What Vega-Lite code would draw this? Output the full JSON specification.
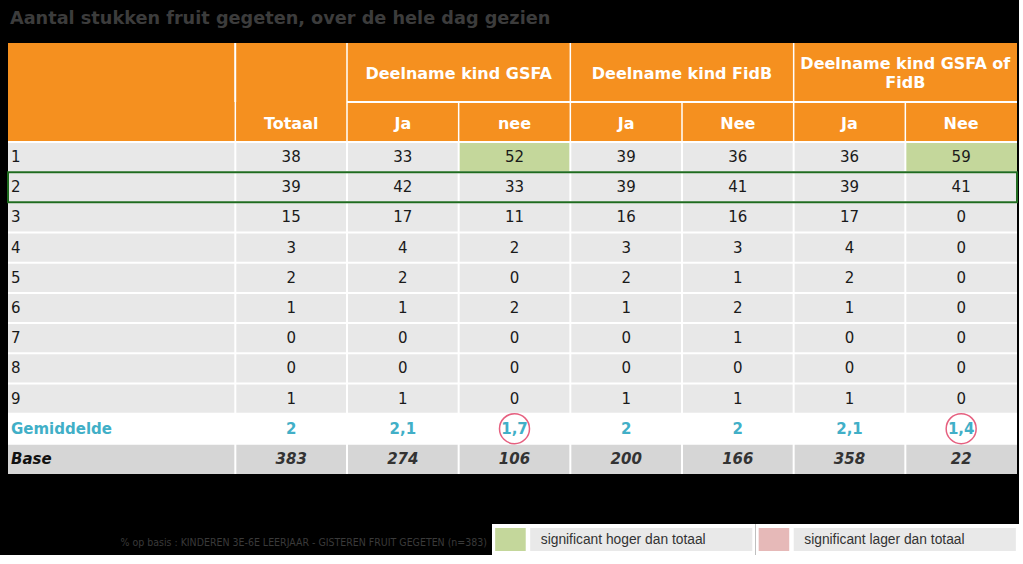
{
  "$schema": "https://vega.github.io/schema/vega-lite/v6.json",
  "background": "black",
  "padding": {"left": 7, "top": 9, "right": 0, "bottom": 0},
  "title": {"text": "Aantal stukken fruit gegeten, over de hele dag gezien", "anchor": "start", "font": "DejaVu Sans", "fontSize": 17.7, "fontWeight": "bold", "color": "#3c3c3c", "offset": 15, "dx": 3},
  "config": {"view": {"stroke": null}, "axis": {"disable": true}, "legend": {"disable": true}, "text": {"font": "DejaVu Sans"}},
  "datasets": {
    "groups": [
      {"group": "Deelname kind GSFA", "first": "GSFA Ja", "second": "GSFA nee"},
      {"group": "Deelname kind FidB", "first": "FidB Ja", "second": "FidB Nee"},
      {"group": "Deelname kind GSFA of\nFidB", "first": "Of Ja", "second": "Of Nee"}
    ],
    "subcols": [
      {"col": "Totaal", "label": "Totaal"},
      {"col": "GSFA Ja", "label": "Ja"},
      {"col": "GSFA nee", "label": "nee"},
      {"col": "FidB Ja", "label": "Ja"},
      {"col": "FidB Nee", "label": "Nee"},
      {"col": "Of Ja", "label": "Ja"},
      {"col": "Of Nee", "label": "Nee"}
    ],
    "legend": [
      {"item": "hoger", "label": "significant hoger dan totaal"},
      {"item": "lager", "label": "significant lager dan totaal"}
    ],
    "notes": [{"note": "% op basis : KINDEREN  3E-6E LEERJAAR - GISTEREN FRUIT GEGETEN (n=383)"}],
    "cells": [
      {"row": "1", "col": "Totaal", "value": "38"}, {"row": "1", "col": "GSFA Ja", "value": "33"}, {"row": "1", "col": "GSFA nee", "value": "52", "sig": "hoger"}, {"row": "1", "col": "FidB Ja", "value": "39"}, {"row": "1", "col": "FidB Nee", "value": "36"}, {"row": "1", "col": "Of Ja", "value": "36"}, {"row": "1", "col": "Of Nee", "value": "59", "sig": "hoger"},
      {"row": "2", "col": "Totaal", "value": "39"}, {"row": "2", "col": "GSFA Ja", "value": "42"}, {"row": "2", "col": "GSFA nee", "value": "33"}, {"row": "2", "col": "FidB Ja", "value": "39"}, {"row": "2", "col": "FidB Nee", "value": "41"}, {"row": "2", "col": "Of Ja", "value": "39"}, {"row": "2", "col": "Of Nee", "value": "41"},
      {"row": "3", "col": "Totaal", "value": "15"}, {"row": "3", "col": "GSFA Ja", "value": "17"}, {"row": "3", "col": "GSFA nee", "value": "11"}, {"row": "3", "col": "FidB Ja", "value": "16"}, {"row": "3", "col": "FidB Nee", "value": "16"}, {"row": "3", "col": "Of Ja", "value": "17"}, {"row": "3", "col": "Of Nee", "value": "0"},
      {"row": "4", "col": "Totaal", "value": "3"}, {"row": "4", "col": "GSFA Ja", "value": "4"}, {"row": "4", "col": "GSFA nee", "value": "2"}, {"row": "4", "col": "FidB Ja", "value": "3"}, {"row": "4", "col": "FidB Nee", "value": "3"}, {"row": "4", "col": "Of Ja", "value": "4"}, {"row": "4", "col": "Of Nee", "value": "0"},
      {"row": "5", "col": "Totaal", "value": "2"}, {"row": "5", "col": "GSFA Ja", "value": "2"}, {"row": "5", "col": "GSFA nee", "value": "0"}, {"row": "5", "col": "FidB Ja", "value": "2"}, {"row": "5", "col": "FidB Nee", "value": "1"}, {"row": "5", "col": "Of Ja", "value": "2"}, {"row": "5", "col": "Of Nee", "value": "0"},
      {"row": "6", "col": "Totaal", "value": "1"}, {"row": "6", "col": "GSFA Ja", "value": "1"}, {"row": "6", "col": "GSFA nee", "value": "2"}, {"row": "6", "col": "FidB Ja", "value": "1"}, {"row": "6", "col": "FidB Nee", "value": "2"}, {"row": "6", "col": "Of Ja", "value": "1"}, {"row": "6", "col": "Of Nee", "value": "0"},
      {"row": "7", "col": "Totaal", "value": "0"}, {"row": "7", "col": "GSFA Ja", "value": "0"}, {"row": "7", "col": "GSFA nee", "value": "0"}, {"row": "7", "col": "FidB Ja", "value": "0"}, {"row": "7", "col": "FidB Nee", "value": "1"}, {"row": "7", "col": "Of Ja", "value": "0"}, {"row": "7", "col": "Of Nee", "value": "0"},
      {"row": "8", "col": "Totaal", "value": "0"}, {"row": "8", "col": "GSFA Ja", "value": "0"}, {"row": "8", "col": "GSFA nee", "value": "0"}, {"row": "8", "col": "FidB Ja", "value": "0"}, {"row": "8", "col": "FidB Nee", "value": "0"}, {"row": "8", "col": "Of Ja", "value": "0"}, {"row": "8", "col": "Of Nee", "value": "0"},
      {"row": "9", "col": "Totaal", "value": "1"}, {"row": "9", "col": "GSFA Ja", "value": "1"}, {"row": "9", "col": "GSFA nee", "value": "0"}, {"row": "9", "col": "FidB Ja", "value": "1"}, {"row": "9", "col": "FidB Nee", "value": "1"}, {"row": "9", "col": "Of Ja", "value": "1"}, {"row": "9", "col": "Of Nee", "value": "0"},
      {"row": "Gemiddelde", "col": "Totaal", "value": "2"}, {"row": "Gemiddelde", "col": "GSFA Ja", "value": "2,1"}, {"row": "Gemiddelde", "col": "GSFA nee", "value": "1,7", "sig": "lager"}, {"row": "Gemiddelde", "col": "FidB Ja", "value": "2"}, {"row": "Gemiddelde", "col": "FidB Nee", "value": "2"}, {"row": "Gemiddelde", "col": "Of Ja", "value": "2,1"}, {"row": "Gemiddelde", "col": "Of Nee", "value": "1,4", "sig": "lager"},
      {"row": "Base", "col": "Totaal", "value": "383"}, {"row": "Base", "col": "GSFA Ja", "value": "274"}, {"row": "Base", "col": "GSFA nee", "value": "106"}, {"row": "Base", "col": "FidB Ja", "value": "200"}, {"row": "Base", "col": "FidB Nee", "value": "166"}, {"row": "Base", "col": "Of Ja", "value": "358"}, {"row": "Base", "col": "Of Nee", "value": "22"}
    ]
  },
  "spacing": 49,
  "vconcat": [
    {
      "bounds": "flush",
      "spacing": 0,
      "vconcat": [
        {
          "width": 1009, "height": 59,
          "data": {"name": "groups"},
          "layer": [
            {"mark": {"type": "rect", "color": "#F5901F"}, "encoding": {}},
            {"mark": {"type": "rule", "color": "white", "strokeWidth": 1.5},
             "encoding": {"x": {"field": "first", "type": "nominal", "bandPosition": 0, "scale": {"type": "band", "domain": ["lab1", "lab2", "Totaal", "GSFA Ja", "GSFA nee", "FidB Ja", "FidB Nee", "Of Ja", "Of Nee"], "paddingInner": 0, "paddingOuter": 0.0179, "align": 1}}}},
            {"mark": {"type": "rule", "color": "white", "strokeWidth": 1.5},
             "encoding": {"x": {"datum": "Totaal", "type": "nominal", "bandPosition": 0, "scale": {"type": "band", "domain": ["lab1", "lab2", "Totaal", "GSFA Ja", "GSFA nee", "FidB Ja", "FidB Nee", "Of Ja", "Of Nee"], "paddingInner": 0, "paddingOuter": 0.0179, "align": 1}}}},
            {"transform": [{"filter": "indexof(datum.group, '\\n') < 0"}],
             "mark": {"type": "text", "color": "white", "fontSize": 16, "fontWeight": "bold", "dy": 1},
             "encoding": {"x": {"field": "second", "type": "nominal", "bandPosition": 0, "scale": {"type": "band", "domain": ["lab1", "lab2", "Totaal", "GSFA Ja", "GSFA nee", "FidB Ja", "FidB Nee", "Of Ja", "Of Nee"], "paddingInner": 0, "paddingOuter": 0.0179, "align": 1}}, "text": {"field": "group"}}},
            {"transform": [{"filter": "indexof(datum.group, '\\n') >= 0"}],
             "mark": {"type": "text", "color": "white", "fontSize": 16, "fontWeight": "bold", "lineBreak": "\n", "lineHeight": 19, "dy": -8.5},
             "encoding": {"x": {"field": "second", "type": "nominal", "bandPosition": 0, "scale": {"type": "band", "domain": ["lab1", "lab2", "Totaal", "GSFA Ja", "GSFA nee", "FidB Ja", "FidB Nee", "Of Ja", "Of Nee"], "paddingInner": 0, "paddingOuter": 0.0179, "align": 1}}, "text": {"field": "group"}}}
          ]
        },
        {
          "width": 1009, "height": 40,
          "data": {"name": "subcols"},
          "layer": [
            {"mark": {"type": "rect", "color": "#F5901F"}, "encoding": {}},
            {"mark": {"type": "rule", "color": "white", "strokeWidth": 1.5},
             "encoding": {"x": {"field": "col", "type": "nominal", "bandPosition": 0, "scale": {"type": "band", "domain": ["lab1", "lab2", "Totaal", "GSFA Ja", "GSFA nee", "FidB Ja", "FidB Nee", "Of Ja", "Of Nee"], "paddingInner": 0, "paddingOuter": 0.0179, "align": 1}}}},
            {"mark": {"type": "rule", "color": "white", "strokeWidth": 1.5},
             "encoding": {
               "x": {"datum": "GSFA Ja", "type": "nominal", "bandPosition": 0, "scale": {"type": "band", "domain": ["lab1", "lab2", "Totaal", "GSFA Ja", "GSFA nee", "FidB Ja", "FidB Nee", "Of Ja", "Of Nee"], "paddingInner": 0, "paddingOuter": 0.0179, "align": 1}},
               "x2": {"datum": "Of Nee", "bandPosition": 1},
               "y": {"datum": "S", "type": "nominal", "bandPosition": 0, "scale": {"type": "band", "domain": ["S"], "paddingInner": 0, "paddingOuter": 0}}}},
            {"mark": {"type": "text", "color": "white", "fontSize": 16, "fontWeight": "bold", "dy": 2},
             "encoding": {"x": {"field": "col", "type": "nominal", "scale": {"type": "band", "domain": ["lab1", "lab2", "Totaal", "GSFA Ja", "GSFA nee", "FidB Ja", "FidB Nee", "Of Ja", "Of Nee"], "paddingInner": 0, "paddingOuter": 0.0179, "align": 1}},
               "y": {"datum": "S", "type": "nominal", "scale": {"type": "band", "domain": ["S"], "paddingInner": 0, "paddingOuter": 0}},
               "text": {"field": "label"}}}
          ]
        },
        {
          "width": 1009, "height": 332,
          "data": {"name": "cells"},
          "encoding": {
            "x": {"field": "col", "type": "nominal", "scale": {"type": "band", "domain": ["lab1", "lab2", "Totaal", "GSFA Ja", "GSFA nee", "FidB Ja", "FidB Nee", "Of Ja", "Of Nee"], "paddingInner": 0, "paddingOuter": 0.0179, "align": 1}},
            "y": {"field": "row", "type": "nominal", "scale": {"type": "band", "domain": ["1", "2", "3", "4", "5", "6", "7", "8", "9", "Gemiddelde", "Base"], "paddingInner": 0, "paddingOuter": 0}}
          },
          "layer": [
            {"transform": [{"filter": "datum.col === 'Totaal'"}],
             "mark": {"type": "rect"},
             "encoding": {"x": null,
               "fill": {"condition": [{"test": "datum.row === 'Gemiddelde'", "value": "#FFFFFF"}, {"test": "datum.row === 'Base'", "value": "#D6D6D6"}], "value": "#E8E8E8"}}},
            {"transform": [{"filter": "datum.sig && datum.row !== 'Gemiddelde'"}],
             "mark": {"type": "rect"},
             "encoding": {"color": {"field": "sig", "type": "nominal", "scale": {"domain": ["hoger", "lager"], "range": ["#C4D79B", "#E6B9B8"]}, "legend": null}}},
            {"transform": [{"filter": "datum.row === '1'"}],
             "mark": {"type": "rule", "color": "white", "strokeWidth": 2},
             "encoding": {"x": {"field": "col", "type": "nominal", "bandPosition": 0}, "y": null}},
            {"transform": [{"filter": "datum.col === 'Totaal'"}],
             "mark": {"type": "rule", "color": "white", "strokeWidth": 2},
             "encoding": {"y": {"field": "row", "type": "nominal", "bandPosition": 0}, "x": null}},
            {"transform": [{"filter": "datum.row === '2' && datum.col === 'Totaal'"}],
             "mark": {"type": "rect", "filled": false, "color": "#1F6B1F", "stroke": "#1F6B1F", "strokeWidth": 2},
             "encoding": {"x": null}},
            {"transform": [{"filter": "datum.row !== 'Gemiddelde' && datum.row !== 'Base'"}],
             "mark": {"type": "text", "fontSize": 15, "color": "#1a1a1a"},
             "encoding": {"text": {"field": "value"}}},
            {"transform": [{"filter": "datum.col === 'Totaal' && datum.row !== 'Gemiddelde' && datum.row !== 'Base'"}],
             "mark": {"type": "text", "fontSize": 15, "color": "#1a1a1a", "align": "left", "dx": -1},
             "encoding": {"x": {"datum": "lab1", "type": "nominal", "bandPosition": 0}, "text": {"field": "row"}}},
            {"transform": [{"filter": "datum.row === 'Gemiddelde'"}],
             "mark": {"type": "text", "fontSize": 15, "fontWeight": "bold", "color": "#41AFC7"},
             "encoding": {"text": {"field": "value"}}},
            {"transform": [{"filter": "datum.row === 'Gemiddelde' && datum.col === 'Totaal'"}],
             "mark": {"type": "text", "fontSize": 15, "fontWeight": "bold", "color": "#41AFC7", "align": "left", "dx": -1},
             "encoding": {"x": {"datum": "lab1", "type": "nominal", "bandPosition": 0}, "text": {"field": "row"}}},
            {"transform": [{"filter": "datum.row === 'Base'"}],
             "mark": {"type": "text", "fontSize": 15, "fontWeight": "bold", "fontStyle": "italic", "color": "#333333"},
             "encoding": {"text": {"field": "value"}}},
            {"transform": [{"filter": "datum.row === 'Base' && datum.col === 'Totaal'"}],
             "mark": {"type": "text", "fontSize": 15, "fontWeight": "bold", "fontStyle": "italic", "color": "#111111", "align": "left", "dx": -1},
             "encoding": {"x": {"datum": "lab1", "type": "nominal", "bandPosition": 0}, "text": {"field": "row"}}},
            {"transform": [{"filter": "datum.sig && datum.row === 'Gemiddelde'"}],
             "mark": {"type": "point", "shape": "circle", "filled": false, "color": "#DC1E4B", "strokeWidth": 1.5, "size": 900},
             "encoding": {}}
          ]
        }
      ]
    },
    {
      "width": 1011, "height": 31,
      "data": {"name": "legend"},
      "layer": [
        {"mark": {"type": "rect", "color": "white"},
         "encoding": {"x": {"field": "item", "type": "nominal", "scale": {"type": "band", "domain": ["hoger", "lager"], "paddingInner": 0, "paddingOuter": 0.9184, "align": 1}}}},
        {"mark": {"type": "rect"},
         "encoding": {
           "x": {"field": "item", "type": "nominal", "bandPosition": 0.012, "scale": {"type": "band", "domain": ["hoger", "lager"], "paddingInner": 0, "paddingOuter": 0.9184, "align": 1}},
           "x2": {"field": "item", "bandPosition": 0.128},
           "y": {"datum": "L", "type": "nominal", "scale": {"type": "band", "domain": ["L"], "paddingInner": 0, "paddingOuter": 0.174}},
           "color": {"field": "item", "type": "nominal", "scale": {"domain": ["hoger", "lager"], "range": ["#C4D79B", "#E6B9B8"]}, "legend": null}}},
        {"mark": {"type": "rect", "color": "#E9E9E9"},
         "encoding": {
           "x": {"field": "item", "type": "nominal", "bandPosition": 0.145, "scale": {"type": "band", "domain": ["hoger", "lager"], "paddingInner": 0, "paddingOuter": 0.9184, "align": 1}},
           "x2": {"field": "item", "bandPosition": 0.988},
           "y": {"datum": "L", "type": "nominal", "scale": {"type": "band", "domain": ["L"], "paddingInner": 0, "paddingOuter": 0.174}}}},
        {"mark": {"type": "text", "align": "left", "font": "Liberation Sans", "fontSize": 13.8, "color": "#333333"},
         "encoding": {
           "x": {"field": "item", "type": "nominal", "bandPosition": 0.185, "scale": {"type": "band", "domain": ["hoger", "lager"], "paddingInner": 0, "paddingOuter": 0.9184, "align": 1}},
           "y": {"datum": "L", "type": "nominal", "scale": {"type": "band", "domain": ["L"], "paddingInner": 0, "paddingOuter": 0.174}},
           "text": {"field": "label"}}},
        {"data": {"name": "notes"},
         "mark": {"type": "text", "align": "right", "dx": -5, "dy": 3, "font": "Liberation Sans Narrow, DejaVu Sans Condensed, Liberation Sans", "fontSize": 10.5, "color": "#3a3a3a"},
         "encoding": {
           "x": {"datum": "hoger", "type": "nominal", "bandPosition": 0, "scale": {"type": "band", "domain": ["hoger", "lager"], "paddingInner": 0, "paddingOuter": 0.9184, "align": 1}},
           "y": {"datum": "L", "type": "nominal", "scale": {"type": "band", "domain": ["L"], "paddingInner": 0, "paddingOuter": 0.174}},
           "text": {"field": "note"}}}
      ]
    }
  ]
}
